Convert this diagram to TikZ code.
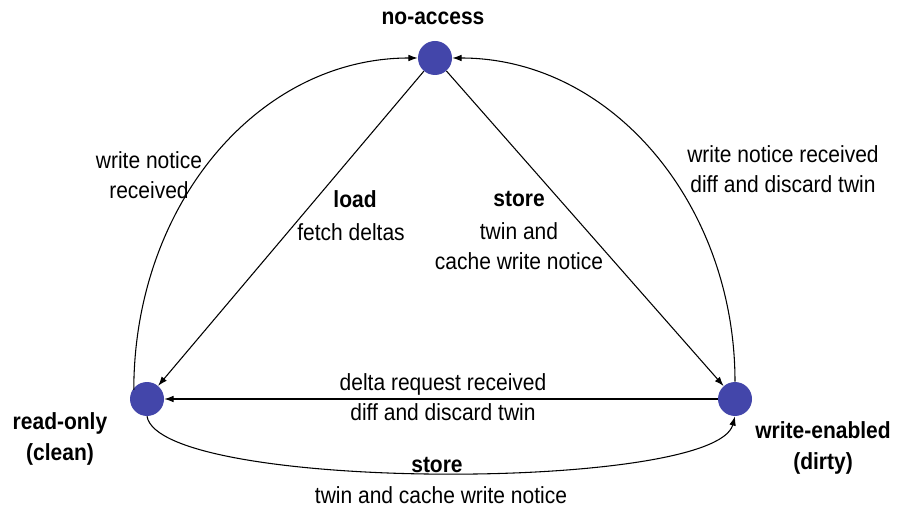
\documentclass[tikz,border=0pt]{standalone}
\usepackage{fontspec}
\setmainfont{Liberation Sans}[FakeStretch=0.9]
\usetikzlibrary{arrows.meta}
\definecolor{statefill}{RGB}{67,70,170}
\begin{document}
\begin{tikzpicture}[x=0.75pt,y=-0.75pt,
  state/.style={circle,fill=statefill,inner sep=0pt,minimum size=25.5pt},
  lbl/.style={align=center,font=\fontsize{17.5}{23}\selectfont,inner sep=0pt},
  blbl/.style={lbl,font=\fontsize{17.5}{23}\selectfont\bfseries},
  edge/.style={line width=0.8pt,-{Latex[length=7pt,width=5pt]}}]
\useasboundingbox (0,0) rectangle (899,509);

% states
\node[state] (na) at (435,58) {};
\node[state] (ro) at (147,399) {};
\node[state] (we) at (735,399) {};

% state names
\node[blbl] (naname) at (433,18) {no-access};
\node[blbl] (roname) at (60,439) {read-only\\(clean)};
\node[blbl] (wename) at (823,448) {write-enabled\\(dirty)};

% transitions
\draw[edge] (na) -- (ro);
\draw[edge] (na) -- (we);
\draw[edge] (we) -- (ro);
\draw[edge] (ro.north west) ++(-1,3) coordinate (rotop)
  (rotop) .. controls (134,205) and (258,58) .. (na.west);
\draw[edge] (we.north) coordinate (wetop)
  (wetop) .. controls (735,205) and (612,58) .. (na.east);
\draw[edge] (ro.south) .. controls (160,492) and (715,492) .. (we.south);

% transition labels
\node[lbl] (l1) at (149,175) {write notice\\received};
\node[blbl] (l2a) at (355,199) {load};
\node[lbl] (l2b) at (351,232) {fetch deltas};
\node[blbl] (l3a) at (519,199) {store};
\node[lbl] (l3b) at (519,246) {twin and\\cache write notice};
\node[lbl] (l4) at (783,169) {write notice received\\diff and discard twin};
\node[lbl] (l5) at (443,397) {delta request received\\diff and discard twin};
\node[blbl] (l6a) at (437,465) {store};
\node[lbl] (l6b) at (441,495) {twin and cache write notice};
\end{tikzpicture}
\end{document}
